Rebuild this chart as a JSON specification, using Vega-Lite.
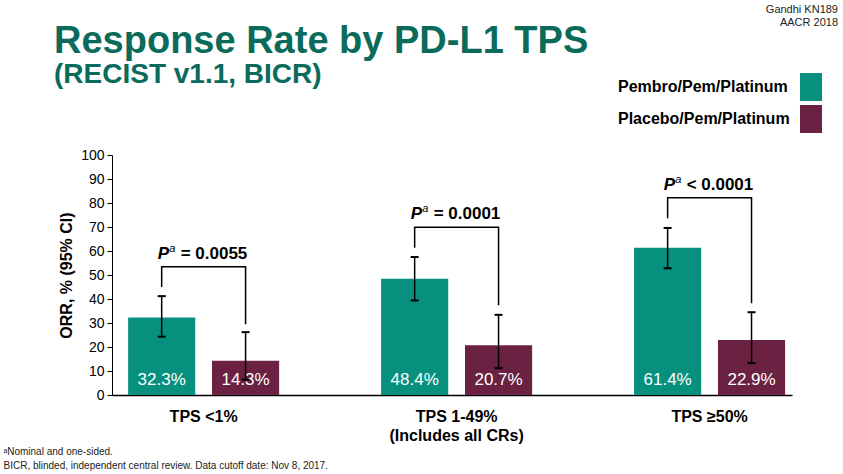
{
  "$schema": "https://vega.github.io/schema/vega-lite/v6.json",
  "width": 680,
  "height": 240,
  "autosize": "none",
  "padding": {"left": 112, "top": 155, "right": 51, "bottom": 79},
  "background": "white",
  "config": {
    "font": "Liberation Sans",
    "view": {"stroke": null},
    "axisY": {"tickCount": 10, "labelOverlap": false}
  },
  "title": {
    "text": "Response Rate by PD-L1 TPS",
    "subtitle": "(RECIST v1.1, BICR)",
    "anchor": "start",
    "frame": "group",
    "dx": -58,
    "offset": -85,
    "fontSize": 38,
    "fontWeight": "bold",
    "color": "#0b6b5b",
    "subtitleFontSize": 28,
    "subtitleFontWeight": "bold",
    "subtitleColor": "#0b6b5b",
    "subtitlePadding": 0
  },
  "datasets": {
    "bars": [
      {"group": "TPS <1%", "series": "Pembro/Pem/Platinum", "orr": 32.3, "lo": 24.3, "hi": 41.2},
      {"group": "TPS <1%", "series": "Placebo/Pem/Platinum", "orr": 14.3, "lo": 6.4, "hi": 26.2},
      {"group": "TPS 1-49%", "series": "Pembro/Pem/Platinum", "orr": 48.4, "lo": 39.4, "hi": 57.5},
      {"group": "TPS 1-49%", "series": "Placebo/Pem/Platinum", "orr": 20.7, "lo": 11.2, "hi": 33.4},
      {"group": "TPS ≥50%", "series": "Pembro/Pem/Platinum", "orr": 61.4, "lo": 52.8, "hi": 69.6},
      {"group": "TPS ≥50%", "series": "Placebo/Pem/Platinum", "orr": 22.9, "lo": 13.3, "hi": 34.5}
    ],
    "bracket": [
      {"group": "TPS <1%", "series": "Pembro/Pem/Platinum", "y": 45.0, "k": 1},
      {"group": "TPS <1%", "series": "Pembro/Pem/Platinum", "y": 53.4, "k": 2},
      {"group": "TPS <1%", "series": "Placebo/Pem/Platinum", "y": 53.4, "k": 3},
      {"group": "TPS <1%", "series": "Placebo/Pem/Platinum", "y": 29.5, "k": 4},
      {"group": "TPS 1-49%", "series": "Pembro/Pem/Platinum", "y": 61.4, "k": 1},
      {"group": "TPS 1-49%", "series": "Pembro/Pem/Platinum", "y": 69.9, "k": 2},
      {"group": "TPS 1-49%", "series": "Placebo/Pem/Platinum", "y": 69.9, "k": 3},
      {"group": "TPS 1-49%", "series": "Placebo/Pem/Platinum", "y": 37.4, "k": 4},
      {"group": "TPS ≥50%", "series": "Pembro/Pem/Platinum", "y": 73.6, "k": 1},
      {"group": "TPS ≥50%", "series": "Pembro/Pem/Platinum", "y": 82.2, "k": 2},
      {"group": "TPS ≥50%", "series": "Placebo/Pem/Platinum", "y": 82.2, "k": 3},
      {"group": "TPS ≥50%", "series": "Placebo/Pem/Platinum", "y": 38.2, "k": 4}
    ],
    "pvals": [
      {"group": "TPS <1%", "series": "Pembro/Pem/Platinum", "y": 53.4, "ptext": "= 0.0055"},
      {"group": "TPS 1-49%", "series": "Pembro/Pem/Platinum", "y": 69.9, "ptext": "= 0.0001"},
      {"group": "TPS ≥50%", "series": "Pembro/Pem/Platinum", "y": 82.2, "ptext": "< 0.0001"}
    ]
  },
  "encoding": {
    "x": {
      "field": "group",
      "type": "nominal",
      "scale": {"domain": ["TPS <1%", "TPS 1-49%", "TPS ≥50%"], "paddingInner": 0.403, "paddingOuter": 0.0455, "align": 0.7},
      "axis": {
        "title": ["ᵃNominal and one-sided.", "BICR, blinded, independent central review. Data cutoff date: Nov 8, 2017."],
        "titleFontSize": 10,
        "titleFontWeight": "normal",
        "titleColor": "#222222",
        "titleAnchor": "start",
        "titleAlign": "left",
        "titleBaseline": "top",
        "titleX": -109,
        "titleY": 51,
        "titleLineHeight": 14,
        "labelExpr": "datum.value == 'TPS 1-49%' ? ['TPS 1-49%', '(Includes all CRs)'] : datum.value",
        "labelFontSize": 16,
        "labelFontWeight": "bold",
        "labelColor": "black",
        "labelAngle": 0,
        "labelPadding": 13,
        "labelLineHeight": 19,
        "ticks": false,
        "domainColor": "black",
        "domainWidth": 1.5
      }
    },
    "xOffset": {
      "field": "series",
      "type": "nominal",
      "scale": {"domain": ["Pembro/Pem/Platinum", "Placebo/Pem/Platinum"], "paddingInner": 0.2, "paddingOuter": 0}
    }
  },
  "layer": [
    {
      "data": {"name": "bars"},
      "mark": {"type": "bar"},
      "encoding": {
        "y": {
          "field": "orr",
          "type": "quantitative",
          "scale": {"domain": [0, 100], "nice": false},
          "axis": {
            "title": "ORR, % (95% CI)",
            "titleFontSize": 16,
            "titleFontWeight": "bold",
            "titleColor": "black",
            "titlePadding": 6,
            "labelFontSize": 14,
            "labelColor": "black",
            "labelPadding": 3,
            "tickColor": "black",
            "tickSize": 5,
            "domainColor": "black",
            "grid": false
          }
        },
        "color": {
          "field": "series",
          "type": "nominal",
          "scale": {"domain": ["Pembro/Pem/Platinum", "Placebo/Pem/Platinum"], "range": ["#08907f", "#6b2141"]},
          "legend": {
            "orient": "none",
            "legendX": 651,
            "legendY": -151,
            "padding": 0,
            "title": ["Gandhi  KN189", "AACR 2018"],
            "titleFontSize": 11,
            "titleFontWeight": "normal",
            "titleColor": "#222222",
            "titleAnchor": "end",
            "titleAlign": "right",
            "titlePadding": 45,
            "titleLineHeight": 13,
            "symbolType": "M-0.786,-1H0.786V1H-0.786Z M1.93,0L1.93,0",
            "symbolSize": 784,
            "symbolStrokeWidth": 0,
            "symbolOpacity": 1,
            "labelAlign": "left",
            "labelOffset": -207,
            "labelFontSize": 16,
            "labelFontWeight": "bold",
            "labelColor": "black",
            "labelLimit": 300,
            "rowPadding": 4
          }
        }
      }
    },
    {
      "data": {"name": "bars"},
      "transform": [{"calculate": "format(datum.orr, '.1f') + '%'", "as": "label"}],
      "mark": {"type": "text", "color": "white", "fontSize": 17, "baseline": "middle", "dy": -15},
      "encoding": {
        "y": {"datum": 0, "type": "quantitative"},
        "text": {"field": "label"}
      }
    },
    {
      "data": {"name": "bars"},
      "mark": {"type": "rule", "color": "black", "strokeWidth": 1.5},
      "encoding": {
        "y": {"field": "lo", "type": "quantitative"},
        "y2": {"field": "hi"}
      }
    },
    {
      "data": {"name": "bars"},
      "transform": [{"fold": ["lo", "hi"], "as": ["end", "v"]}],
      "mark": {"type": "point", "shape": "M-1,0H1", "size": 64, "stroke": "black", "strokeWidth": 2, "filled": false, "opacity": 1},
      "encoding": {
        "y": {"field": "v", "type": "quantitative"}
      }
    },
    {
      "data": {"name": "bracket"},
      "mark": {"type": "line", "color": "black", "strokeWidth": 1.5},
      "encoding": {
        "y": {"field": "y", "type": "quantitative"},
        "detail": {"field": "group"},
        "order": {"field": "k"}
      }
    },
    {
      "data": {"name": "pvals"},
      "mark": {"type": "text", "text": "P", "fontSize": 17, "fontWeight": "bold", "fontStyle": "italic", "align": "left", "baseline": "alphabetic", "dx": -4, "dy": -8, "color": "black"},
      "encoding": {"y": {"field": "y", "type": "quantitative"}}
    },
    {
      "data": {"name": "pvals"},
      "mark": {"type": "text", "text": "a", "fontSize": 11, "fontStyle": "italic", "align": "left", "baseline": "alphabetic", "dx": 7.5, "dy": -15, "color": "black"},
      "encoding": {"y": {"field": "y", "type": "quantitative"}}
    },
    {
      "data": {"name": "pvals"},
      "mark": {"type": "text", "fontSize": 17, "fontWeight": "bold", "align": "left", "baseline": "alphabetic", "dx": 19, "dy": -8, "color": "black"},
      "encoding": {
        "y": {"field": "y", "type": "quantitative"},
        "text": {"field": "ptext"}
      }
    }
  ]
}
